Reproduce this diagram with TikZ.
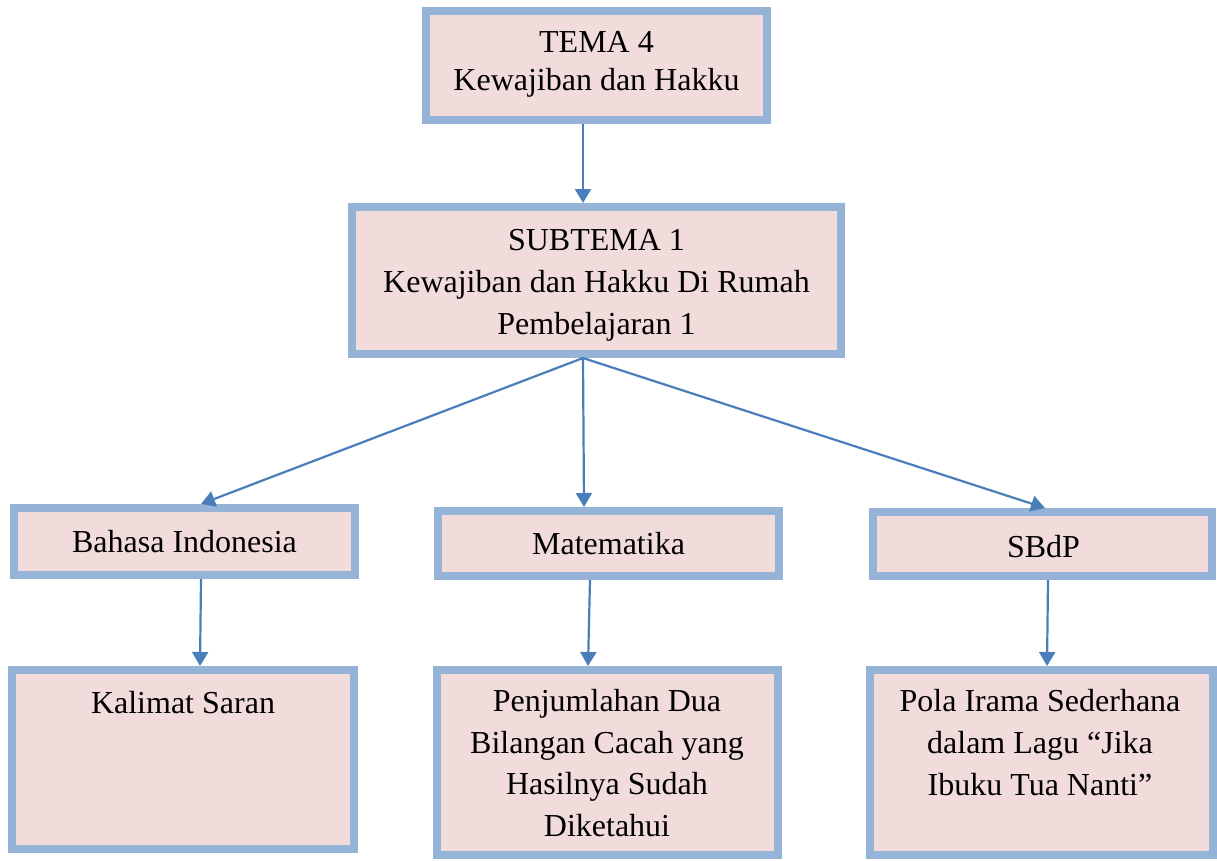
\documentclass[tikz,border=0pt]{standalone}
\usepackage{fontspec}
\setmainfont{Liberation Serif}
\usetikzlibrary{arrows.meta}
\definecolor{boxfill}{HTML}{F2DCDB}
\definecolor{boxline}{HTML}{95B3D7}
\definecolor{arrowc}{HTML}{4A7EBB}
\tikzset{
  box/.style={draw=boxline, fill=boxfill, line width=8pt, rectangle, inner sep=0pt},
  lbl/.style={anchor=base, align=center, inner sep=0pt, font=\fontsize{32}{41.8}\selectfont},
  conn/.style={draw=arrowc, line width=2.2pt, -{Triangle[length=14pt,width=16pt]}}
}
\begin{document}
\begin{tikzpicture}[x=1pt,y=-1pt]
\useasboundingbox[fill=white] (0,0) rectangle (1217,860);
% boxes
\node[box, minimum width=341pt, minimum height=109pt] (tema) at (596.5,65.5) {};
\node[box, minimum width=489pt, minimum height=147pt] (sub) at (596.5,280.5) {};
\node[box, minimum width=341pt, minimum height=67pt] (bi) at (184.5,541.5) {};
\node[box, minimum width=341pt, minimum height=65pt] (mat) at (608.5,543.5) {};
\node[box, minimum width=339pt, minimum height=64pt] (sbdp) at (1042.5,544) {};
\node[box, minimum width=342pt, minimum height=179pt] (ks) at (183,759.5) {};
\node[box, minimum width=341pt, minimum height=185pt] (pj) at (607.5,762.5) {};
\node[box, minimum width=343pt, minimum height=185pt] (pola) at (1041.5,762.5) {};
% texts (anchor base = baseline of the last line)
\node[lbl, font=\fontsize{32}{38}\selectfont] (ttema) at (596.5,90) {TEMA 4\\Kewajiban dan Hakku};
\node[lbl] (tsub) at (596.5,334.3) {SUBTEMA 1\\Kewajiban dan Hakku Di Rumah\\Pembelajaran 1};
\node[lbl] (tbi) at (184.5,552) {Bahasa Indonesia};
\node[lbl] (tmat) at (608.5,554) {Matematika};
\node[lbl] (tsbdp) at (1043.5,557) {SBdP};
\node[lbl] (tks) at (183,713) {Kalimat Saran};
\node[lbl] (tpj) at (607,836.7) {Penjumlahan Dua\\Bilangan Cacah yang\\Hasilnya Sudah\\Diketahui};
\node[lbl] (tpola) at (1040,795) {Pola Irama Sederhana\\dalam Lagu “Jika\\Ibuku Tua Nanti”};
% connectors
\draw[conn] ([xshift=-13.5pt]tema.south) -- ([xshift=-13.5pt]sub.north);
\draw[conn] ([xshift=-13.5pt]sub.south) -- ([xshift=16.5pt]bi.north);
\draw[conn] ([xshift=-13.5pt]sub.south) -- ([xshift=-24.5pt]mat.north);
\draw[conn] ([xshift=-13.5pt]sub.south) -- ([xshift=2.5pt]sbdp.north);
\draw[conn] ([xshift=16.5pt]bi.south) -- ([xshift=17pt]ks.north);
\draw[conn] ([xshift=-18.5pt]mat.south) -- ([xshift=-19.5pt]pj.north);
\draw[conn] ([xshift=5.5pt]sbdp.south) -- ([xshift=5.5pt]pola.north);
\end{tikzpicture}
\end{document}
